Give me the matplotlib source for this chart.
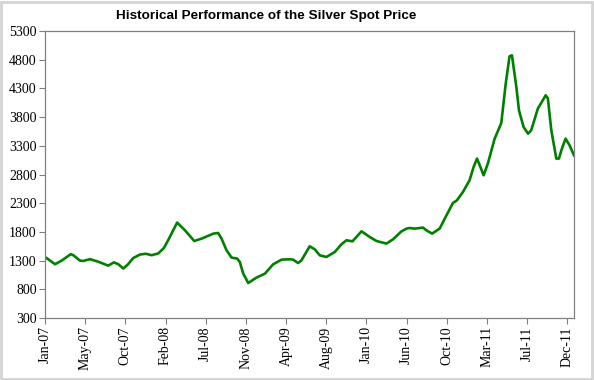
import matplotlib
matplotlib.use("Agg")
import matplotlib.pyplot as plt
from matplotlib.patches import Rectangle

# week index (from Jan-07) and silver spot price (cents/oz)
weeks = [0.0, 0.8, 5.0, 8.3, 12.8, 14.1, 17.4, 19.1, 22.4, 26.5, 31.5, 34.3, 36.5,
         39.0, 41.4, 43.9, 47.3, 50.2, 53.1, 56.4, 59.2, 61.3, 65.8, 69.7, 74.3,
         78.0, 83.8, 86.2, 87.9, 90.4, 92.9, 95.7, 97.0, 98.7, 101.2, 105.3,
         109.5, 113.6, 117.8, 121.9, 123.5, 126.0, 127.7, 131.8, 134.3, 136.8,
         140.1, 144.3, 147.6, 150.1, 153.1, 157.6, 161.7, 165.1, 170.0, 173.3,
         177.5, 180.0, 181.6, 184.1, 188.2, 189.9, 192.7, 196.5, 199.9, 203.1,
         205.1, 208.1, 211.4, 213.4, 215.1, 216.8, 218.4, 220.5, 223.9, 227.2,
         229.4, 231.3, 232.5, 234.7, 236.0, 238.3, 240.5, 242.1, 245.4, 249.3,
         250.4, 252.1, 254.6, 255.9, 257.1, 259.2, 261.2, 263.4]
price = [1360, 1344, 1237, 1300, 1412, 1394, 1300, 1294, 1325, 1281, 1212, 1269, 1237,
         1162, 1237, 1344, 1406, 1419, 1394, 1425, 1519, 1654, 1962, 1828, 1641,
         1683, 1770, 1781, 1683, 1479, 1352, 1335, 1276, 1074, 910, 1004,
         1073, 1235, 1317, 1323, 1317, 1258, 1305, 1549, 1497, 1392,
         1363, 1450, 1584, 1654, 1636, 1810, 1711, 1641, 1596, 1671,
         1810, 1857, 1868, 1857, 1875, 1828, 1770, 1857, 2089, 2303,
         2350, 2495, 2699, 2930, 3077, 2930, 2786, 2990, 3425, 3697,
         4383, 4859, 4876, 4324, 3918, 3627, 3512, 3570, 3948, 4180,
         4122, 3570, 3077, 3077, 3221, 3425, 3308, 3134]

tick_labels = ["Jan-07", "May-07", "Oct-07", "Feb-08", "Jul-08", "Nov-08", "Apr-09",
               "Aug-09", "Jan-10", "Jun-10", "Oct-10", "Mar-11", "Jul-11", "Dec-11"]
y_ticks = list(range(300, 5301, 500))

fig = plt.figure(figsize=(5.94, 3.80), dpi=100)
fig.patch.set_facecolor("white")
ax = fig.add_axes([45/594, 1 - 318/380, (574 - 45)/594, (318 - 31)/380])

ax.plot(weeks, price, color="#008000", lw=1.9, solid_joinstyle="round")

ax.set_xlim(0, 263.4)
ax.set_ylim(300, 5300)
ax.set_xticks([i * 20 for i in range(len(tick_labels))])
ax.set_xticklabels(tick_labels, rotation=90, family="Liberation Serif", fontsize=10)
ax.set_yticks(y_ticks)
ax.set_yticklabels([str(v) for v in y_ticks], family="Liberation Serif", fontsize=10)
ax.tick_params(axis="both", direction="out", length=4, width=0.8, color="#808080", pad=2)

for s in ax.spines.values():
    s.set_color("#808080")
    s.set_linewidth(0.9)

fig.text(266/594, 1 - 16/380, "Historical Performance of the Silver Spot Price",
         ha="center", va="center", family="Liberation Sans", fontweight="bold", fontsize=9.7)

# outer chart border
fig.patches.append(Rectangle((0.002, 0.003), 0.994, 0.993, transform=fig.transFigure,
                             fill=False, edgecolor="#d4d4d4", lw=2.0))

fig.savefig("out.png", dpi=100)
